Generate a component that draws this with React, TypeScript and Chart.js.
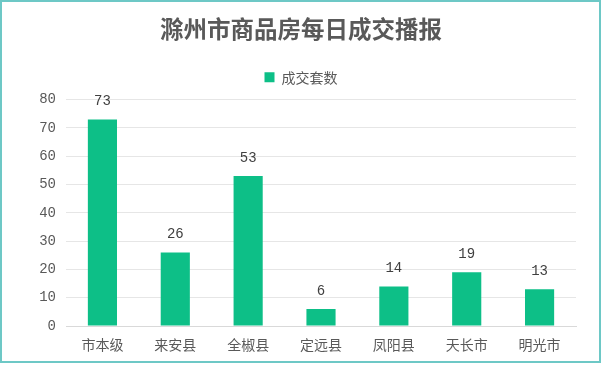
import React, { useEffect, useRef } from "react";
import { Chart, registerables } from "chart.js";

Chart.register(...registerables);

const categories = ["市本级", "来安县", "全椒县", "定远县", "凤阳县", "天长市", "明光市"];
const values = [73, 26, 53, 6, 14, 19, 13];
const seriesName = "成交套数";
const titleText = "滁州市商品房每日成交播报";

const W = 602;
const H = 373;

const valueLabels = {
  id: "valueLabels",
  afterDatasetsDraw(chart: any) {
    const ctx = chart.ctx;
    const meta = chart.getDatasetMeta(0);
    ctx.save();
    ctx.font = '14px "Liberation Mono", monospace';
    ctx.fillStyle = "#404040";
    ctx.textAlign = "center";
    ctx.textBaseline = "middle";
    meta.data.forEach((bar: any, i: number) => {
      ctx.fillText(String(chart.data.datasets[0].data[i]), bar.x, bar.y - 18);
    });
    ctx.restore();
  },
};

const legendGap = {
  id: "legendGap",
  afterInit(chart: any) {
    const lg = chart.legend;
    if (lg && !lg.__patched) {
      const orig = lg.fit;
      lg.fit = function (this: any) {
        orig.call(this);
        this.height += 5.5;
      };
      lg.__patched = true;
    }
  },
};

export default function App() {
  const ref = useRef<HTMLCanvasElement>(null);
  useEffect(() => {
    document.body.style.margin = "0";
    const chart = new Chart(ref.current!, {
      type: "bar",
      data: {
        labels: categories,
        datasets: [
          {
            label: seriesName,
            data: values,
            backgroundColor: "#0DBF87",
            borderWidth: 0,
            categoryPercentage: 0.8,
            barPercentage: 0.5,
          },
        ],
      },
      options: {
        responsive: false,
        animation: false,
        devicePixelRatio: 1,
        layout: { padding: 0 },
        plugins: {
          title: {
            display: true,
            text: titleText,
            color: "#595959",
            font: { family: '"Noto Sans CJK SC", sans-serif', size: 23.5, weight: "bold" },
            padding: { top: 14.5, bottom: 11.5 },
          },
          legend: {
            display: true,
            labels: {
              color: "#595959",
              font: { family: '"Noto Sans CJK SC", sans-serif', size: 14 },
              boxWidth: 10,
              boxHeight: 10,
              padding: 16,
            },
          },
          tooltip: { enabled: false },
        },
        scales: {
          x: {
            grid: { display: false, drawTicks: false },
            border: { display: true, color: "#d9d9d9", width: 1 },
            ticks: {
              color: "#595959",
              font: { family: '"Noto Sans CJK SC", sans-serif', size: 14 },
              padding: 10,
            },
            afterFit: (s: any) => {
              s.height = 47;
            },
          },
          y: {
            min: 0,
            max: 80,
            grid: { color: "#e6e6e6", drawTicks: false },
            border: { display: false },
            ticks: {
              stepSize: 10,
              color: "#595959",
              font: { family: '"Liberation Mono", monospace', size: 14 },
              padding: 10,
            },
            afterFit: (s: any) => {
              s.width = 66;
            },
          },
          yRight: {
            type: "linear",
            position: "right",
            min: 0,
            max: 80,
            grid: { display: false, drawTicks: false },
            border: { display: false },
            ticks: { display: false },
            afterFit: (s: any) => {
              s.width = 26;
            },
          },
        },
      },
      plugins: [valueLabels, legendGap],
    });
    return () => chart.destroy();
  }, []);
  return (
    <div style={{ position: "absolute", left: 0, top: 0, width: W, height: H, background: "#fff" }}>
      <canvas ref={ref} width={W} height={H} style={{ position: "absolute", left: 0, top: 0 }} />
      <div
        style={{
          position: "absolute",
          left: 0,
          top: 0,
          width: 601,
          height: 363,
          boxSizing: "border-box",
          border: "2px solid #6DC8C6",
          pointerEvents: "none",
        }}
      />
    </div>
  );
}
